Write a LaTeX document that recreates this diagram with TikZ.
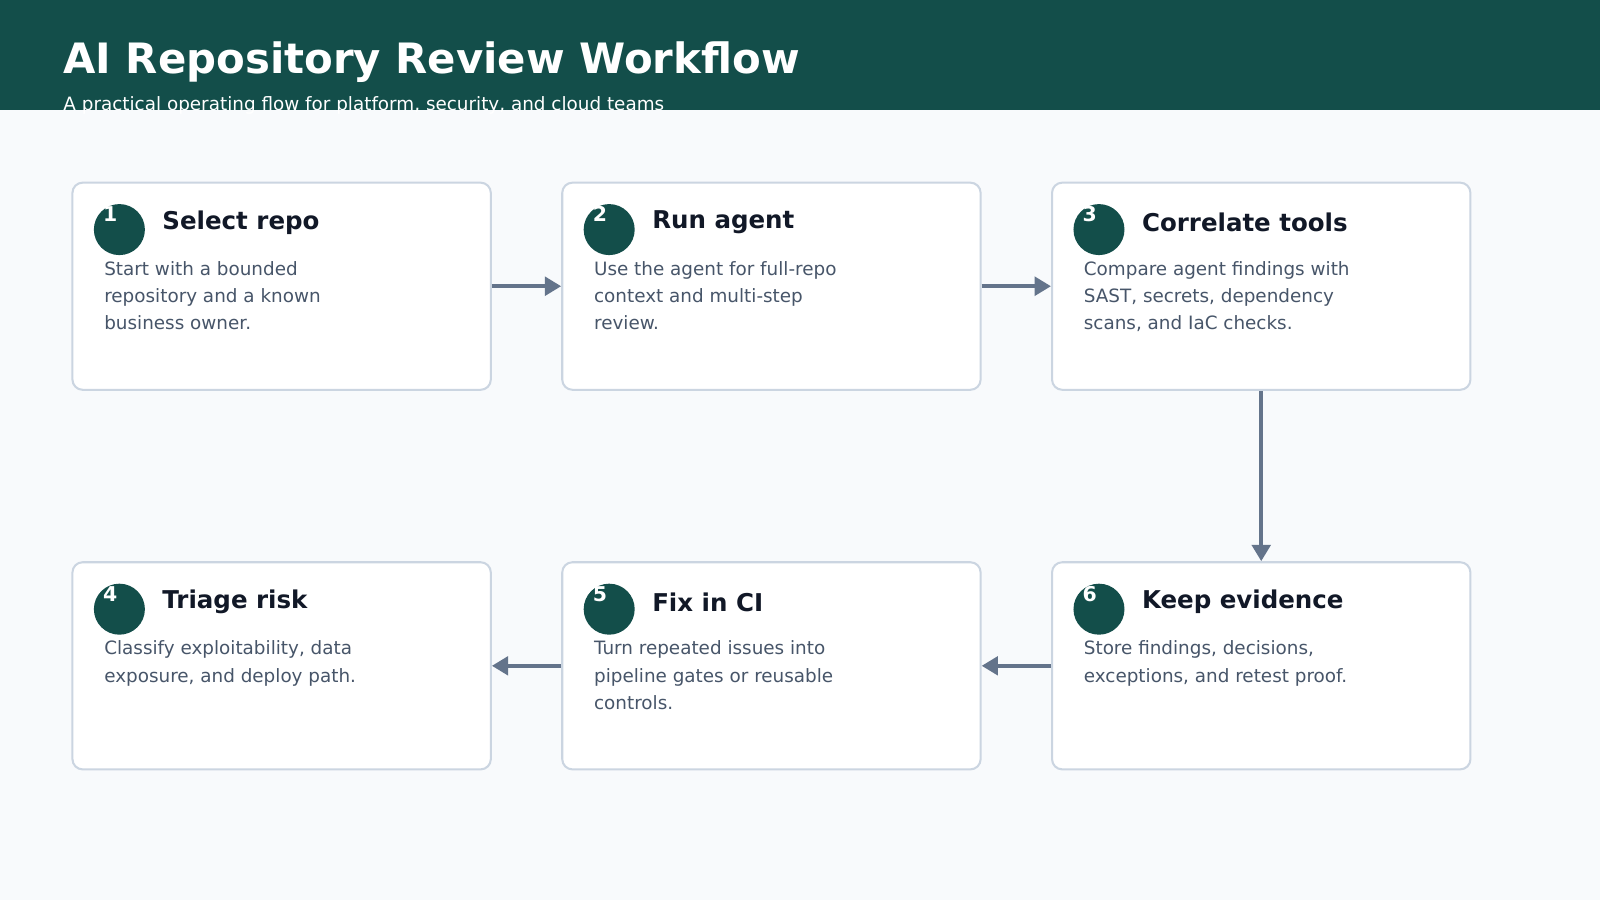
\documentclass[tikz,border=0pt]{standalone}
\usepackage{fontspec}
\setmainfont{DejaVu Sans}
\usetikzlibrary{positioning,arrows.meta}
\definecolor{teal}{HTML}{134E4A}
\definecolor{pagebg}{HTML}{F8FAFC}
\definecolor{edge}{HTML}{CBD5E1}
\definecolor{arrowc}{HTML}{64748B}
\definecolor{bodyc}{HTML}{475569}
\definecolor{titlec}{HTML}{111827}

\begin{document}
\begin{tikzpicture}[x=1pt,y=-1pt,
    card/.style={draw=edge,line width=2pt,fill=white,rounded corners=10pt,
      minimum width=410pt,minimum height=203pt,anchor=north west,inner sep=0pt},
    badge/.style={circle,fill=teal,minimum size=50pt,inner sep=0pt},
    num/.style={text=white,font=\fontsize{20}{20}\selectfont\bfseries,inner sep=0pt},
    head/.style={text=titlec,font=\fontsize{24}{24}\selectfont\bfseries,anchor=west,inner sep=0pt},
    body/.style={text=bodyc,font=\fontsize{18}{26.5}\selectfont,anchor=north west,
      align=left,inner sep=0pt},
    flow/.style={draw=arrowc,line width=4pt,-{Triangle[length=16pt,width=18pt]}}]

\fill[pagebg] (0,0) rectangle (1568,882);
\useasboundingbox (0,0) rectangle (1568,882);
\fill[teal] (0,0) rectangle (1568,108);
\node[text=white,font=\fontsize{41}{41}\selectfont\bfseries,anchor=base west,inner sep=0pt]
  (title) at (62,72) {AI Repository Review Workflow};
\node[text=white,font=\fontsize{18}{18}\selectfont,anchor=base west,inner sep=0pt]
  (sub) at (62,108) {A practical operating flow for platform, security, and cloud teams};

% steps
\foreach \i/\x/\y/\h/\t in {
  1/70/178/Select repo/{Start with a bounded\\repository and a known\\business owner.},
  2/550/178/Run agent/{Use the agent for full-repo\\context and multi-step\\review.},
  3/1030/178/Correlate tools/{Compare agent findings with\\SAST, secrets, dependency\\scans, and IaC checks.},
  4/70/550/Triage risk/{Classify exploitability, data\\exposure, and deploy path.},
  5/550/550/Fix in CI/{Turn repeated issues into\\pipeline gates or reusable\\controls.},
  6/1030/550/Keep evidence/{Store findings, decisions,\\exceptions, and retest proof.}}{
  \node[card] (b\i) at (\x,\y) {};
  \node[badge] (c\i) at (\x+47,\y+47) {};
  \node[num] (n\i) at (\x+38,\y+32) {\i};
  \node[head] (h\i) at (\x+89,\y+40) {\h};
  \node[body] (t\i) at (\x+32,\y+78) {\t};
}

% connectors
\draw[flow] (b1) -- (b2);
\draw[flow] (b2) -- (b3);
\draw[flow] (b3) -- (b6);
\draw[flow] (b6) -- (b5);
\draw[flow] (b5) -- (b4);

\end{tikzpicture}
\end{document}
